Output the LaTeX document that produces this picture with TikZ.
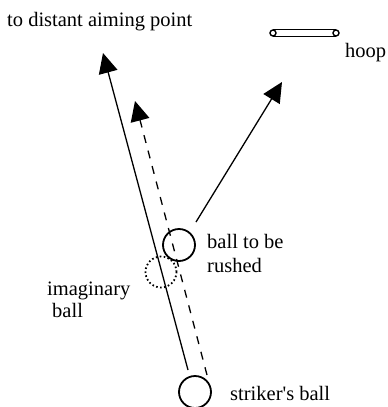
\documentclass[tikz,border=0pt]{standalone}
\usepackage{fontspec}
\newfontfamily\labfont{Liberation Serif}
\usetikzlibrary{arrows.meta}
\begin{document}
\begin{tikzpicture}[x=1pt,y=-1pt,
  lab/.style={anchor=base west,inner sep=0pt,font=\labfont\fontsize{20.5}{24}\selectfont},
  ball/.style={circle,draw,line width=1.8pt,minimum size=32pt,inner sep=0pt},
  imball/.style={circle,draw,line width=1.8pt,minimum size=31pt,inner sep=0pt,dash pattern=on 1.6pt off 2.4pt},
  hoopend/.style={circle,draw,line width=1.4pt,minimum size=6pt,inner sep=0pt},
  tube/.style={line width=1.4pt},
  path/.style={line width=1.3pt,-{Triangle[length=20pt,width=19pt]}},
  dpath/.style={path,dash pattern=on 8pt off 8pt}]
\useasboundingbox (0,0) rectangle (388,407);
% labels
\node[lab] (aimlab) at (7,26) {to distant aiming point};
\node[lab] (hooplab) at (345,57) {hoop};
\node[lab] (rushA) at (207,248) {ball to be};
\node[lab] (rushB) at (207,272) {rushed};
\node[lab] (imA) at (47,295) {imaginary};
\node[lab] (imB) at (52,317) {ball};
\node[lab] (strlab) at (230,400) {striker\textquotesingle s ball};
% hoop
\node[hoopend] (hl) at (273,33) {};
\node[hoopend] (hr) at (336,33) {};
\draw[tube] (hl.north) -- (hr.north);
\draw[tube] (hl.south) -- (hr.south);
% balls
\node[ball] (striker) at (195,392) {};
\node[ball] (rushed) at (179,245) {};
\node[imball] (imag) at (161,272) {};
% connector ends
\coordinate (sA) at (188,370);
\coordinate (aim) at (103,53);
\coordinate (sB) at (207,375);
\coordinate (dtip) at (135,101);
\coordinate (rA) at (196,222);
\coordinate (htip) at (282,82);
\draw[path] (sA) -- (aim);
\draw[dpath] (sB) -- (dtip);
\draw[path] (rA) -- (htip);
\end{tikzpicture}
\end{document}
